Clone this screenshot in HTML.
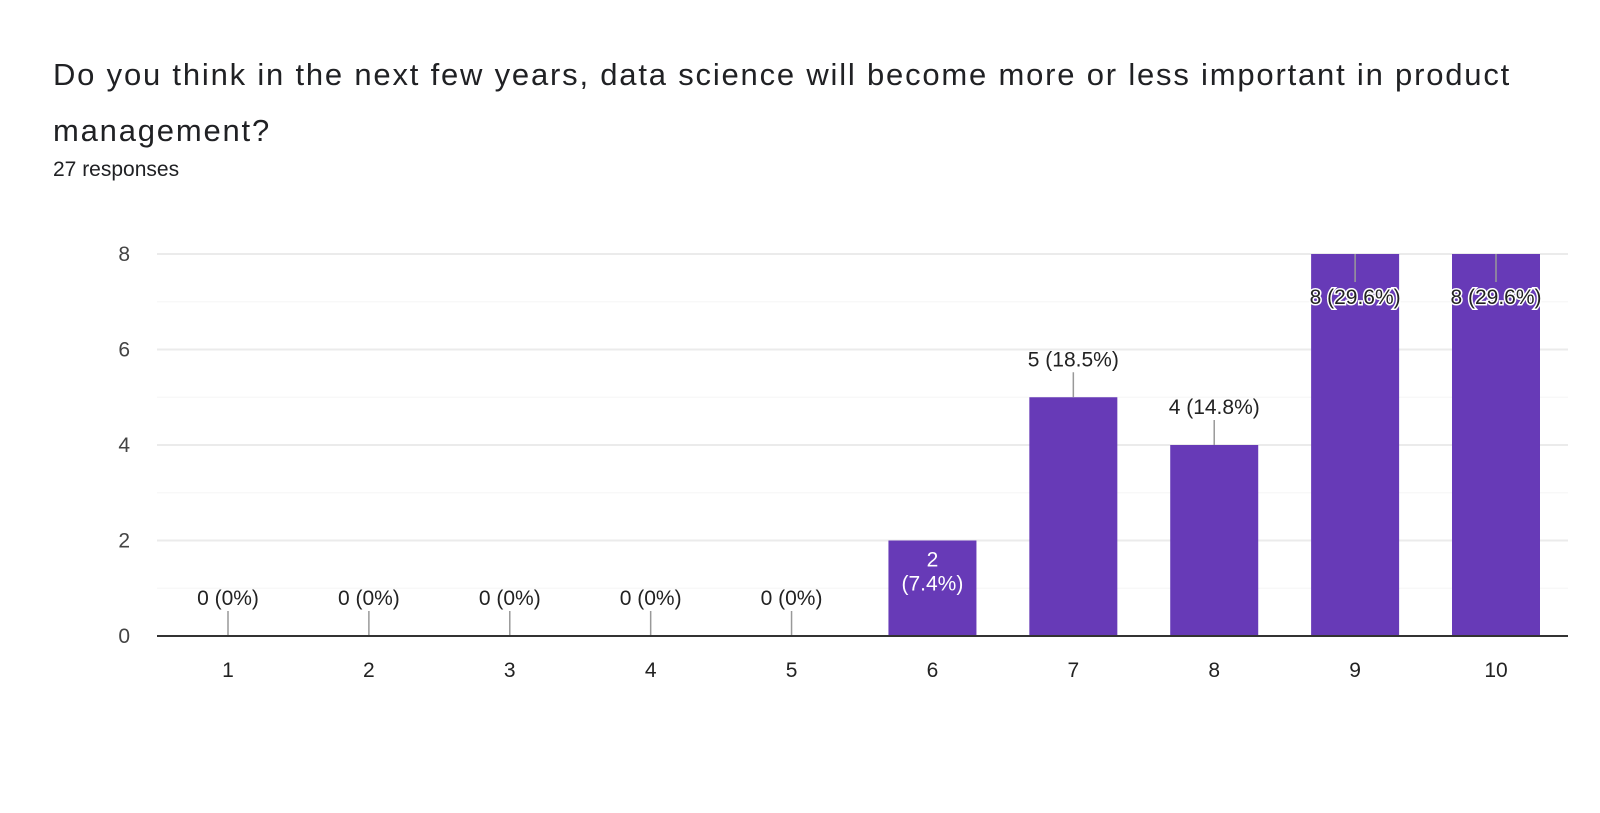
<!DOCTYPE html>
<html><head><meta charset="utf-8">
<style>
body{margin:0;width:1600px;height:813px;background:#fff;overflow:hidden;font-family:"Liberation Sans",Arial,sans-serif;}
#title{position:absolute;left:53px;top:47px;width:1510px;font-size:31px;letter-spacing:1.8px;line-height:56px;color:#202124;}
#resp{position:absolute;left:53px;top:158px;font-size:21px;color:#202124;}
svg{position:absolute;left:0;top:0;}
</style></head><body>
<div id="title">Do you think in the next few years, data science will become more or less important in product management?</div>
<div id="resp">27 responses</div>
<svg id="chart" width="1600" height="813"></svg>
<script>
const categories=["1","2","3","4","5","6","7","8","9","10"];
const counts=[0,0,0,0,0,2,5,4,8,8];
const percents=["0%","0%","0%","0%","0%","7.4%","18.5%","14.8%","29.6%","29.6%"];
const yTicks=[0,2,4,6,8];
const yMax=8;
const NS="http://www.w3.org/2000/svg";
const svg=document.getElementById('chart');
const plotL=157,plotR=1568,y0=636,yTop=254;
function y(v){return y0-(v/yMax)*(y0-yTop);}
function x(i){return 228+i*(1496-228)/(categories.length-1);}
function el(t,a,p){const e=document.createElementNS(NS,t);for(const k in a)e.setAttribute(k,a[k]);(p||svg).appendChild(e);return e;}
for(let v=0;v<yMax;v+=1){
  const g=el('line',{x1:plotL,x2:plotR,y1:y(v+1),y2:y(v+1),stroke:(v+1)%2?'#f5f5f5':'#ebebeb','stroke-width':(v+1)%2?1:2});
  
  
}
yTicks.forEach(v=>{
  const t=el('text',{x:130,y:y(v)+7,'text-anchor':'end','font-size':21,fill:'#444'});t.textContent=v;
  
  
});
const bw=88;
categories.forEach((c,i)=>{
  const cx=x(i),v=counts[i];
  const t=el('text',{x:cx,y:677,'text-anchor':'middle','font-size':21,fill:'#222'});t.textContent=c;
  
  
  if(v>0){
    const r=el('rect',{x:cx-bw/2,y:y(v),width:bw,height:y0-y(v),fill:'#673ab7'});
    
    
  }
  const label=v+' ('+percents[i]+')';
  if(v>=yMax){
    el('line',{x1:cx,x2:cx,y1:y(v),y2:y(v)+28,stroke:'#999','stroke-width':1.5});
    const l=el('text',{x:cx,y:y(v)+50,'text-anchor':'middle','font-size':21,fill:'#222',stroke:'#fff','stroke-width':3,'paint-order':'stroke'});l.textContent=label;
    
    
  }else if(v>0&&v<=2){
    const l=el('text',{x:cx,y:y(v)+26,'text-anchor':'middle','font-size':21,fill:'#fff'});
    
    
    el('tspan',{x:cx},l).textContent=String(v);
    el('tspan',{x:cx,dy:24},l).textContent='('+percents[i]+')';
  }else{
    el('line',{x1:cx,x2:cx,y1:y(v),y2:y(v)-25,stroke:'#999','stroke-width':1.5});
    const l=el('text',{x:cx,y:y(v)-31,'text-anchor':'middle','font-size':21,fill:'#222'});l.textContent=label;
    
    
  }
});
const ax=el('line',{x1:plotL,x2:plotR,y1:y0,y2:y0,stroke:'#333','stroke-width':2});


</script>
</body></html>
